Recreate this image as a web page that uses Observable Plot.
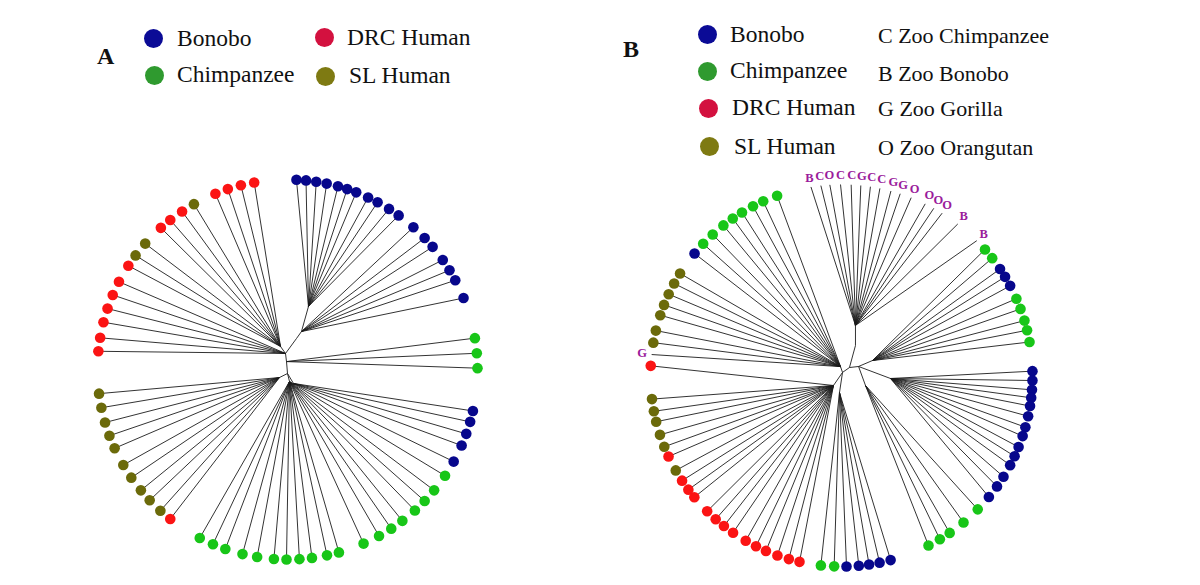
<!DOCTYPE html>
<html><head><meta charset="utf-8">
<script src="https://cdn.jsdelivr.net/npm/d3@7"></script>
<script src="https://cdn.jsdelivr.net/npm/@observablehq/plot@0.6"></script>
<style>
html,body{margin:0;padding:0;background:#fff;}
#wrap{position:relative;width:1200px;height:585px;overflow:hidden;font-family:"Liberation Serif","Times New Roman",serif;color:#111;}
#plots{position:absolute;left:0;top:0;display:flex;}
.lg{position:absolute;white-space:nowrap;line-height:1;}
.sw{position:absolute;border-radius:50%;}
</style></head><body><div id="wrap"><div id="plots"></div></div>
<script>
// ---------- categories ----------
const groupKeys = ["b", "c", "d", "s"];
const groupNames = ["Bonobo", "Chimpanzee", "DRC Human", "SL Human"];
const dotColors = ["#07078c", "#18c618", "#fb1414", "#6b6a0a"];
const legendColors = ["#0b0b96", "#2f9a2f", "#d3113f", "#7e7a12"];
const zooCodes = ["C", "B", "G", "O"];
const zooNames = ["Zoo Chimpanzee", "Zoo Bonobo", "Zoo Gorilla", "Zoo Orangutan"];

// ---------- panel A: tips (angle clockwise from top, degrees) ----------
const anglesA = [2.7, 5.6, 8.7, 11.9, 15.4, 18.3, 21.2, 25.1, 28.3, 32.3, 35.8, 41.5, 46.2, 49.8, 54.8, 58.5, 62.0, 67.9,
  80.5, 85.1, 89.6,
  102.6, 106.0, 109.8, 113.6, 119.0,
  124.0, 129.5, 133.8, 137.9, 142.8, 146.9, 151.2, 156.4, 164.3, 168.0, 172.6, 176.4, 180.3, 184.1, 189.2, 193.7, 199.1, 203.1, 207.5,
  218.1,
  222.0, 226.5, 230.5, 235.3, 239.8, 245.5, 249.6, 253.8, 258.4, 262.7,
  275.5, 279.6, 284.4, 288.7, 293.1, 297.5, 303.1,
  306.9, 311.5,
  318.2, 321.9, 326.3,
  330.5,
  337.7, 341.7, 345.8, 349.9];
const groupsA = "bbbbbb bbbbbb bbbbbb ccc bbbbb cccccc cccccc cccccc c d ssssssssss ddddddd ss ddd s dddd".replace(/ /g, "").split("");
const parentsA = "ttttttttttt qqqqqqq rrr kkkkk ggggggggggggggggggg ooooooooooo uuuuuu lllllllllll".replace(/ /g, "").split("");
// internal nodes A
const nodeIdA = ["r", "u", "v", "p", "q", "t", "l", "o", "g", "k"];
const nodeParentA = [null, "r", "r", "u", "p", "q", "u", "v", "v", "v"];
const nodeAngleA = [352.9, 352.9, 180, 16.2, 20.2, 18.4, 343.1, 225, 170.5, 156.8];
const nodeRadiusA = [0.042, 0.085, 0.021, 0.170, 0.213, 0.350, 0.127, 0.060, 0.064, 0.080];

// ---------- panel B ----------
const anglesB = [350.8, 353.8, 356.5, 359.7, 2.9, 5.8, 8.7, 11.6, 15.0, 17.9, 21.4, 26.0, 28.9, 31.8, 37.5, 45.1,
  48.7, 52.1, 56.1, 58.9, 62.0, 66.3, 69.6, 73.3, 76.3, 79.9,
  88.7, 91.5, 94.3, 96.7, 99.2, 102.3, 105.7, 108.5, 112.0, 115.0, 118.0, 122.0, 125.5, 129.5,
  134.5, 140.3, 145.5, 149.0, 152.9,
  165.1, 168.5, 171.7, 174.8, 178.5, 182.2, 186.2,
  192.7, 196.0, 199.6, 203.3, 206.6, 210.1, 214.6, 218.0, 221.2, 224.7, 230.4, 233.3, 236.6,
  240.2, 244.9, 248.1, 251.9, 256.0, 259.2, 262.9, 272.9, 276.3,
  279.9, 283.6, 288.4, 291.7, 295.2, 298.8, 302.3, 309.7,
  313.6, 317.6, 321.8, 325.3, 328.6, 332.4, 335.8, 340.3];
const groupsB = "BCOCCGCCGGOOOOBB cc bbb ccccc bbbbbbb bbbbbbb ccccc bbbbb cc ddddddddddddd s d sssss d G sssssss b cccccccc".replace(/ /g, "").split("");
const parentsB = "tttttttttttttttt uuuuuuuuuu kkkkkkkkkkkkkk ggggg mmmmmmm ooooooooooooooooooooo wwwwwwwwwwwwwwwww".replace(/ /g, "").split("");
const nodeIdB = ["r", "n", "t", "e", "u", "k", "g", "l", "w", "o", "m"];
const nodeParentB = [null, "r", "n", "r", "e", "e", "e", "r", "l", "l", "l"];
const nodeAngleB = [45, 25.0, 15.6, 62.1, 64.2, 93.5, 112.6, 18.4, 353.7, 218.7, 186.7];
const nodeRadiusB = [0.059, 0.173, 0.272, 0.101, 0.180, 0.257, 0.136, 0.017, 0.047, 0.067, 0.090];

// ---------- build ----------
function pt(a, r) {
  const t = a * Math.PI / 180;
  return {x: r * Math.sin(t), y: r * Math.cos(t)};
}
function buildTree(angles, groups, parents, nIds, nPar, nAng, nRad) {
  const nodes = new Map(nIds.map((id, i) => [id, {id, parent: nPar[i], ...pt(nAng[i], nRad[i])}]));
  const links = [];
  for (const n of nodes.values()) {
    if (n.parent) { const p = nodes.get(n.parent); links.push({x1: n.x, y1: n.y, x2: p.x, y2: p.y}); }
  }
  const tips = angles.map((a, i) => {
    const p = pt(a, 1), l = pt(a, 1.05);
    return {group: groups[i], x: p.x, y: p.y, lx: l.x, ly: l.y};
  });
  tips.forEach((t, i) => {
    const p = nodes.get(parents[i]);
    links.push({x1: t.x, y1: t.y, x2: p.x, y2: p.y});
  });
  return {links, tips};
}

function panel(tree, cx, cy, R) {
  const W = 600, H = 585;
  const dots = tree.tips.filter(d => groupKeys.includes(d.group));
  const labels = tree.tips.filter(d => zooCodes.includes(d.group));
  return Plot.plot({
    width: W, height: H, margin: 0,
    style: {background: "transparent", overflow: "visible"},
    x: {domain: [-cx / R, (W - cx) / R], axis: null},
    y: {domain: [-(H - cy) / R, cy / R], axis: null},
    color: {domain: groupKeys, range: dotColors},
    marks: [
      Plot.link(tree.links, {x1: "x1", y1: "y1", x2: "x2", y2: "y2", stroke: "#1c1c1c", strokeWidth: 0.9}),
      Plot.dot(dots, {x: "x", y: "y", r: 5.3, fill: "group", stroke: null}),
      Plot.text(labels, {x: "lx", y: "ly", text: "group", fill: "#9b1b9b", fontWeight: "bold",
        fontSize: 12.5, fontFamily: "Liberation Serif", textAnchor: "middle", lineAnchor: "middle"})
    ]
  });
}

const treeA = buildTree(anglesA, groupsA, parentsA, nodeIdA, nodeParentA, nodeAngleA, nodeRadiusA);
const treeB = buildTree(anglesB, groupsB, parentsB, nodeIdB, nodeParentB, nodeAngleB, nodeRadiusB);
const plots = document.getElementById("plots");
plots.append(panel(treeA, 287, 369, 190));
plots.append(panel(treeB, 241, 375, 191));

// ---------- legends (HTML) ----------
const wrap = document.getElementById("wrap");
function addText(txt, left, baseline, fs, bold) {
  const el = document.createElement("div");
  el.className = "lg";
  el.textContent = txt;
  el.style.fontSize = fs + "px";
  el.style.left = left + "px";
  el.style.top = (baseline - 0.8375 * fs) + "px";
  if (bold) el.style.fontWeight = "bold";
  wrap.append(el);
}
function addSwatch(color, cx, cy, r) {
  const el = document.createElement("div");
  el.className = "sw";
  el.style.background = color;
  el.style.width = el.style.height = (2 * r) + "px";
  el.style.left = (cx - r) + "px";
  el.style.top = (cy - r) + "px";
  wrap.append(el);
}
// Panel A legend: 2x2 grid
addText("A", 97, 64, 24, true);
const legA = [[153, 38, 177, 47], [154, 75, 177, 83], [324, 37, 347, 46], [325, 76, 349, 84]];
groupNames.forEach((name, i) => {
  const [dx, dy, tx, tb] = legA[i];
  addSwatch(legendColors[i], dx, dy, 9.5);
  addText(name, tx, tb, 23.5);
});
// Panel B legend: column of species, column of zoo codes
addText("B", 623, 57, 24, true);
const legB = [[707, 34, 730, 43], [707, 71, 730, 79], [708, 108, 732, 116], [709, 146, 734, 154.5]];
groupNames.forEach((name, i) => {
  const [dx, dy, tx, tb] = legB[i];
  addSwatch(legendColors[i], dx, dy, 9.5);
  addText(name, tx, tb, 23.5);
});
const zooBase = [43, 81, 116, 155];
zooCodes.forEach((c, i) => addText(c + " " + zooNames[i], 878, zooBase[i], 22));
</script></body></html>
